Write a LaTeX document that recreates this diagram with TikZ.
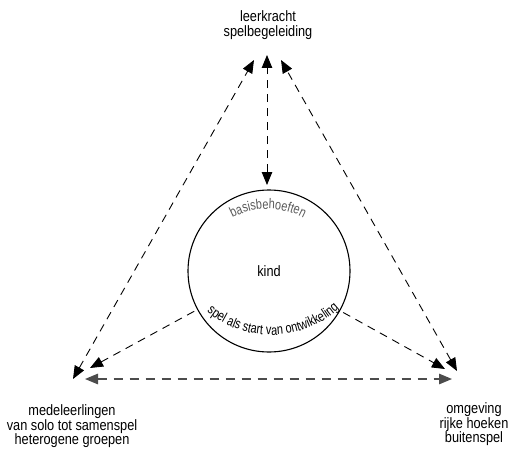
\documentclass[tikz,border=0pt]{standalone}
\usepackage{fontspec}
\setmainfont{Liberation Sans}[FakeStretch=0.85]
\newfontfamily\arcfont{Liberation Sans}[FakeStretch=0.78]
\usetikzlibrary{arrows.meta,decorations.text}
\begin{document}
\begin{tikzpicture}[x=1pt,y=1pt,
  dline/.style={line width=0.9pt, dash pattern=on 8pt off 6pt},
  gline/.style={line width=1.4pt, draw=black!70, dash pattern=on 9pt off 7pt},
  tip/.style={-{Triangle[length=13pt,width=10.5pt]}},
  tips/.style={{Triangle[length=13pt,width=10.5pt]}-{Triangle[length=13pt,width=10.5pt]}},
  lbl/.style={align=center, anchor=north, inner sep=0pt, font=\fontsize{15pt}{14.8pt}\selectfont}]
\useasboundingbox (0,0) rectangle (514,448);
% circle
\node[circle, draw, line width=1.1pt, minimum size=162pt, inner sep=0pt,
      font=\fontsize{15pt}{16pt}\selectfont] (kind) at (269,177) {kind};
\coordinate (arcTop) at (268,163);
\coordinate (arcBot) at (271,214);
% circle texts
\path[decorate, decoration={text along path, text align=center,
   text={|\arcfont\fontsize{14pt}{15pt}\selectfont\color{black!65}|basisbehoeften}}]
   ([shift={(119:76)}]arcTop) arc[start angle=119, end angle=61, radius=76];
\path[decorate, decoration={text along path, text align=center,
   text={|\arcfont\fontsize{14pt}{15pt}\selectfont|spel als start van ontwikkeling}}]
   ([shift={(230:101)}]arcBot) arc[start angle=230, end angle=313, radius=101];
% labels
\node[lbl] (lk) at (268,437.5) {leerkracht\\spelbegeleiding};
\node[lbl] (ml) at (72,43.7) {medeleerlingen\\van solo tot samenspel\\heterogene groepen};
\node[lbl] (om) at (474,45.7) {omgeving\\rijke hoeken\\buitenspel};
% connector ends
\coordinate (topT) at (267,393);
\coordinate (topL) at (254,388);
\coordinate (topR) at (281,388);
\coordinate (cTop) at (267,263);
\coordinate (blT) at (73,69);
\coordinate (blH) at (85,69);
\coordinate (blC) at (90,80);
\coordinate (brT) at (457,77);
\coordinate (brH) at (452,69);
\coordinate (brC) at (445,79);
\coordinate (cL) at ([shift={(208.3:85)}]kind.center);
\coordinate (cR) at ([shift={(330.8:85)}]kind.center);
% connectors
\draw[dline, tips] (cTop) -- (topT);
\draw[dline, tips] (blT) -- (topL);
\draw[dline, tips] (brT) -- (topR);
\draw[gline, tips] (blH) -- (brH);
\draw[dline, tip] (cL) -- (blC);
\draw[dline, tip] (cR) -- (brC);
\end{tikzpicture}
\end{document}
